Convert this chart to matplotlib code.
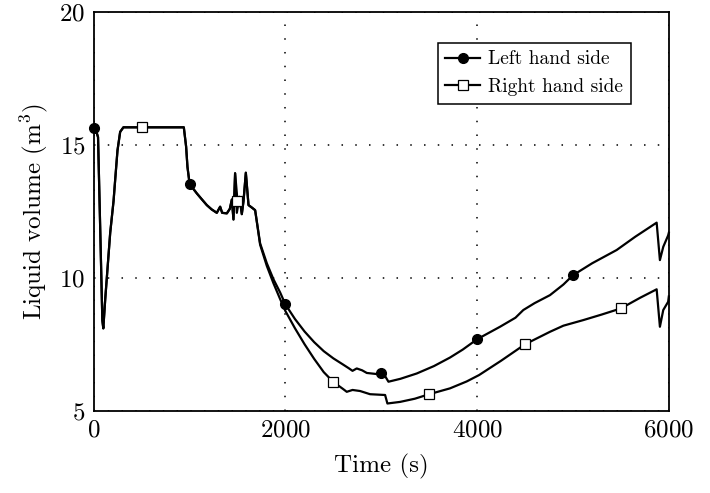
import numpy as np
import matplotlib
matplotlib.use("Agg")
import matplotlib.pyplot as plt

plt.rcParams["font.family"] = "serif"
plt.rcParams["font.serif"] = ["cmr10", "DejaVu Serif"]
plt.rcParams["mathtext.fontset"] = "cm"
plt.rcParams["axes.unicode_minus"] = False
plt.rcParams["axes.formatter.use_mathtext"] = True

# liquid volume on each side of the tank (m^3) against time (s)
t_left = [0, 20, 45, 70, 90, 100, 120, 172, 207, 224, 248, 276, 310, 500, 700, 940,
          964, 978, 1000, 1040, 1076, 1130, 1180, 1230, 1284, 1319, 1340, 1389, 1420,
          1441, 1458, 1475, 1493, 1521, 1545, 1563, 1587, 1615, 1649, 1684, 1736,
          1806, 1875, 1945, 2000, 2100, 2200, 2300, 2400, 2500, 2600, 2660, 2700,
          2744, 2800, 2849, 2950, 3000, 3040, 3075, 3200, 3370, 3550, 3717, 3850,
          4000, 4239, 4400, 4482, 4600, 4760, 4900, 5000, 5200, 5456, 5650, 5873,
          5907, 5942, 5993, 6000]
v_left = [15.65, 15.6, 15.3, 11.5, 8.4, 8.1, 9.2, 11.7, 12.9, 13.7, 14.8, 15.5, 15.67,
          15.67, 15.67, 15.67, 14.94, 14.18, 13.55, 13.35, 13.18, 12.95, 12.74, 12.58,
          12.45, 12.68, 12.45, 12.43, 12.6, 12.95, 12.2, 13.94, 12.45, 13.05, 12.4,
          12.9, 13.96, 12.74, 12.65, 12.55, 11.3, 10.55, 9.95, 9.45, 9.0, 8.45, 7.98,
          7.58, 7.24, 6.97, 6.74, 6.6, 6.5, 6.59, 6.52, 6.42, 6.38, 6.43, 6.30, 6.09,
          6.2, 6.40, 6.68, 7.0, 7.3, 7.69, 8.16, 8.5, 8.79, 9.05, 9.35, 9.75, 10.1,
          10.55, 11.05, 11.55, 12.08, 10.67, 11.17, 11.6, 11.7]

t_right = [0, 20, 45, 70, 90, 100, 120, 172, 207, 224, 248, 276, 310, 500, 700, 940,
           964, 978, 1000, 1040, 1076, 1130, 1180, 1230, 1284, 1319, 1340, 1389, 1420,
           1441, 1458, 1475, 1500, 1521, 1545, 1563, 1587, 1615, 1649, 1684, 1736,
           1806, 1875, 1945, 2000, 2100, 2200, 2300, 2400, 2500, 2600, 2640, 2700,
           2779, 2883, 3040, 3064, 3196, 3350, 3500, 3717, 3891, 4020, 4250, 4500,
           4760, 4900, 5107, 5300, 5500, 5700, 5873, 5907, 5942, 5993, 6000]
v_right = [15.65, 15.6, 15.3, 11.5, 8.4, 8.1, 9.2, 11.7, 12.9, 13.7, 14.8, 15.5, 15.67,
           15.67, 15.67, 15.67, 14.94, 14.18, 13.55, 13.35, 13.18, 12.95, 12.74, 12.58,
           12.45, 12.68, 12.45, 12.43, 12.6, 12.95, 12.2, 13.94, 12.9, 13.05, 12.4,
           12.9, 13.96, 12.74, 12.65, 12.55, 11.25, 10.45, 9.8, 9.2, 8.75, 8.1, 7.5,
           6.95, 6.45, 6.08, 5.82, 5.71, 5.78, 5.74, 5.62, 5.59, 5.27, 5.33, 5.45,
           5.62, 5.84, 6.1, 6.34, 6.88, 7.5, 7.97, 8.2, 8.41, 8.62, 8.85, 9.25, 9.57,
           8.16, 8.79, 9.1, 9.3]

left_marks = [0, 1000, 2000, 3000, 4000, 5000]
right_marks = [500, 1500, 2500, 3500, 4500, 5500]

x_ticks = [0, 2000, 4000, 6000]
y_ticks = [5, 10, 15, 20]

fig = plt.figure(figsize=(7.1, 4.93), dpi=100)
ax = fig.add_axes([0.132, 0.167, 0.81, 0.808])

ax.plot(t_left, v_left, color="black", lw=1.6, marker="o", ms=7,
        markevery=list(np.flatnonzero(np.isin(t_left, left_marks))),
        clip_on=False, label="Left hand side", zorder=3)
ax.plot(t_right, v_right, color="black", lw=1.6, marker="s", ms=7,
        mfc="white", mew=0.9,
        markevery=list(np.flatnonzero(np.isin(t_right, right_marks))),
        clip_on=False, label="Right hand side", zorder=3)

ax.set_xlim(0, 6000)
ax.set_ylim(5, 20)
ax.set_xticks(x_ticks)
ax.set_yticks(y_ticks)
ax.tick_params(length=0, labelsize=18, pad=6)
ax.grid(True, color="black", lw=1.1, linestyle=(0, (1, 8)))
for s in ax.spines.values():
    s.set_linewidth(1.3)

ax.set_xlabel("Time (s)", fontsize=18, labelpad=9)
ax.set_ylabel(r"Liquid volume (m$^3$)", fontsize=18, labelpad=7)

leg = ax.legend(loc="upper right", bbox_to_anchor=(0.951, 0.948), fontsize=14,
                fancybox=False, framealpha=1, edgecolor="black",
                handlelength=1.8, borderpad=0.4, labelspacing=0.5,
                handletextpad=0.4)
leg.get_frame().set_linewidth(1.1)

fig.savefig("out.png", dpi=100)
